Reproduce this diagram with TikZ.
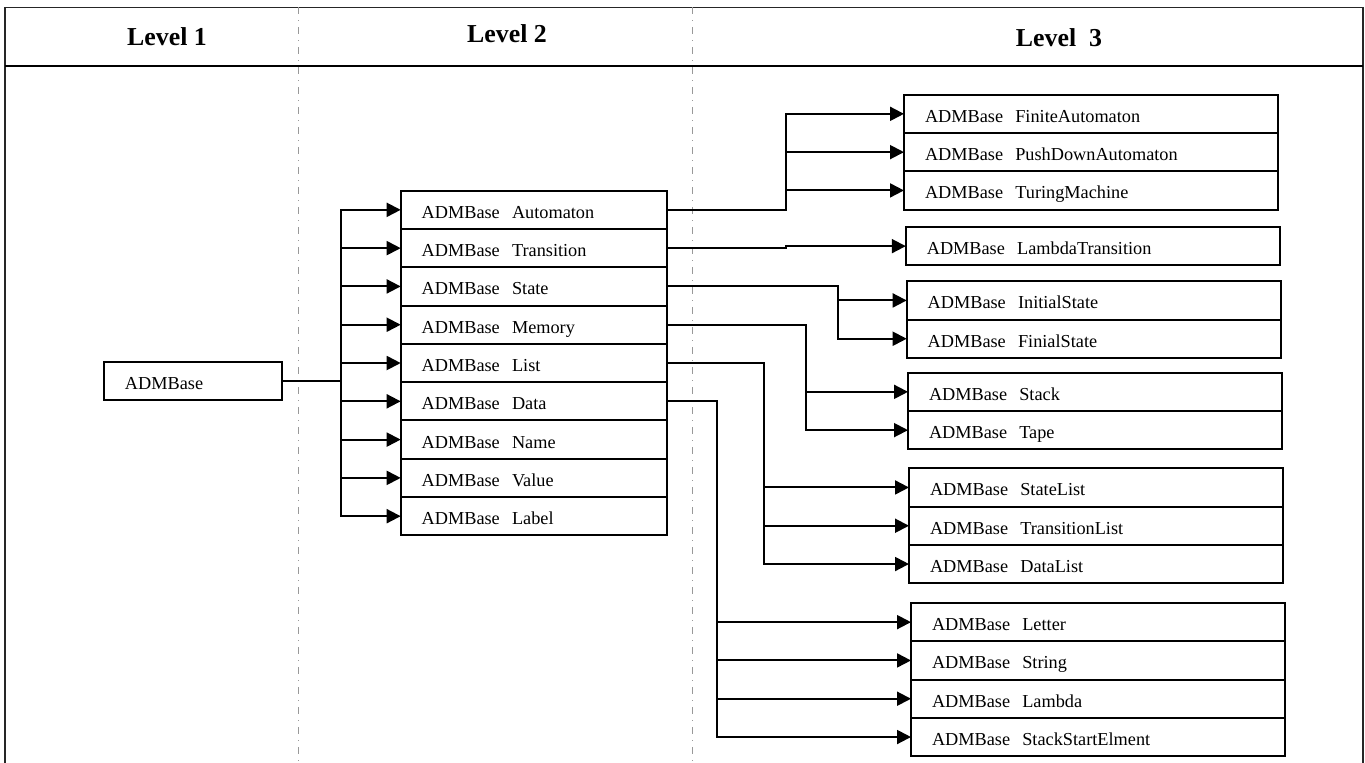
\documentclass[tikz,border=0pt]{standalone}
\usepackage{fontspec}
\setmainfont{Liberation Serif}
\usetikzlibrary{positioning,arrows.meta}
\tikzset{cell/.style={draw, line width=1.1pt, anchor=north west, outer sep=0pt, minimum height=0.766cm,
           inner xsep=0.42cm, inner ysep=0pt, text height=0.34cm, text depth=0cm, align=left,
           font=\fontsize{10.4pt}{12pt}\selectfont},
         one/.style={cell, text width=2.726cm},
         two/.style={cell, text width=4.492cm},
         three/.style={cell, text width=6.65cm},
         head/.style={anchor=base, font=\fontsize{14.7pt}{17pt}\selectfont\bfseries},
         link/.style={line width=1.1pt, -{Triangle[length=0.28cm,width=0.28cm]}},
         grid/.style={gray!80, line width=0.6pt, dash pattern=on 0.14cm off 0.12cm on 0.02cm off 0.12cm}}

\begin{document}
\begin{tikzpicture}[x=0.02cm,y=-0.02cm]
       \useasboundingbox (0,0) rectangle (1365,763);
       % frame and columns
       \draw[black!85, line width=0.9pt] (5,763) -- (5,7.3) -- (1363,7.3) -- (1363,763);
       \draw[line width=1.1pt] (5,65.7) -- (1363,65.7);
       \draw[grid] (298.3,7.3) -- (298.3,763);
       \draw[grid] (692.7,7.3) -- (692.7,763);
       \node[head] (h1) at (167,45.7) {Level 1};
       \node[head] (h2) at (507,43) {Level 2};
       \node[head] (h3) at (1059,46.7) {Level~~3};
       % level 1
       \node[one] (adm) at (104,361.7) {ADMBase};
       % level 2
       \node[two] (aut) at (400.7,190.7) {ADMBase~~Automaton};
       \node[two, below=0pt of aut] (tra) {ADMBase~~Transition};
       \node[two, below=0pt of tra] (sta) {ADMBase~~State};
       \node[two, below=0pt of sta] (mem) {ADMBase~~Memory};
       \node[two, below=0pt of mem] (lis) {ADMBase~~List};
       \node[two, below=0pt of lis] (dat) {ADMBase~~Data};
       \node[two, below=0pt of dat] (nam) {ADMBase~~Name};
       \node[two, below=0pt of nam] (val) {ADMBase~~Value};
       \node[two, below=0pt of val] (lab) {ADMBase~~Label};
       % level 3
       \node[three] (fin) at (904,94.7) {ADMBase~~FiniteAutomaton};
       \node[three, below=0pt of fin] (pus) {ADMBase~~PushDownAutomaton};
       \node[three, below=0pt of pus] (tur) {ADMBase~~TuringMachine};
       \node[three] (lam) at (905.8,227) {ADMBase~~LambdaTransition};
       \node[three] (ini) at (906.7,281.3) {ADMBase~~InitialState};
       \node[three, below=0pt of ini] (fis) {ADMBase~~FinialState};
       \node[three] (stk) at (908,372.7) {ADMBase~~Stack};
       \node[three, below=0pt of stk] (tap) {ADMBase~~Tape};
       \node[three] (stl) at (909,468.3) {ADMBase~~StateList};
       \node[three, below=0pt of stl] (trl) {ADMBase~~TransitionList};
       \node[three, below=0pt of trl] (dal) {ADMBase~~DataList};
       \node[three] (let) at (911,603) {ADMBase~~Letter};
       \node[three, below=0pt of let] (str) {ADMBase~~String};
       \node[three, below=0pt of str] (lmb) {ADMBase~~Lambda};
       \node[three, below=0pt of lmb] (sse) {ADMBase~~StackStartElment};
       % branch points
       \coordinate (j0) at (340.7,0);
       \coordinate (ja) at (786,0);
       \coordinate (jb) at (786,0);
       \coordinate (jc) at (838,0);
       \coordinate (jd) at (805.7,0);
       \coordinate (je) at (763.7,0);
       \coordinate (jf) at (716.7,0);
       \foreach \n in {aut,tra,sta,mem,lis,dat,nam,val,lab}
         \draw[link] (adm.east) -| (j0 |- \n.west) -- (\n.west);
       \foreach \n in {fin,pus,tur}
         \draw[link] (aut.east) -| (ja |- \n.west) -- (\n.west);
       \draw[link] (tra.east) -| (jb |- lam.west) -- (lam.west);
       \foreach \n in {ini,fis}
         \draw[link] (sta.east) -| (jc |- \n.west) -- (\n.west);
       \foreach \n in {stk,tap}
         \draw[link] (mem.east) -| (jd |- \n.west) -- (\n.west);
       \foreach \n in {stl,trl,dal}
         \draw[link] (lis.east) -| (je |- \n.west) -- (\n.west);
       \foreach \n in {let,str,lmb,sse}
         \draw[link] (dat.east) -| (jf |- \n.west) -- (\n.west);
\end{tikzpicture}
\end{document}
